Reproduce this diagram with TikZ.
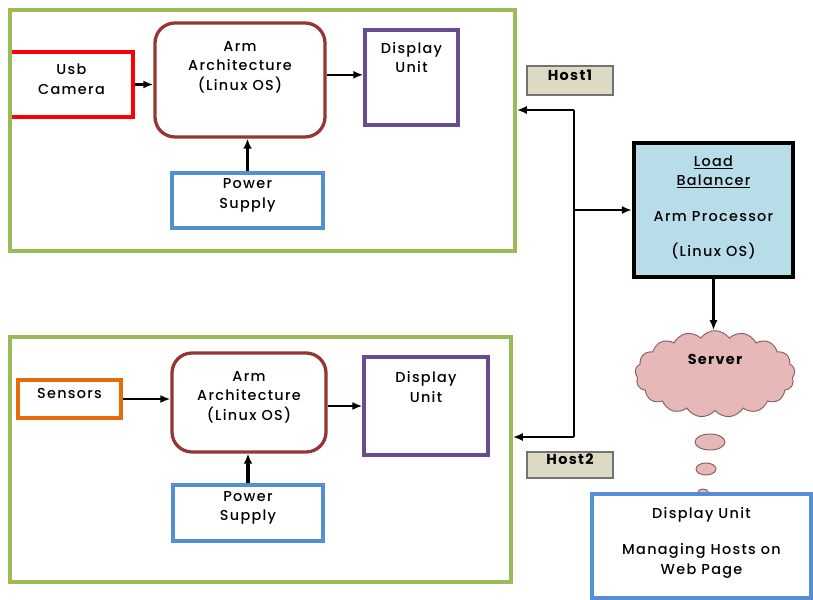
\documentclass[tikz,border=0pt]{standalone}
\usepackage{fontspec}
\setmainfont{Poppins}[UprightFont=* Medium, BoldFont=* Bold, LetterSpace=9]
\usetikzlibrary{positioning, arrows.meta, fit, shapes.symbols, shapes.geometric}

\definecolor{hostgreen}{HTML}{9BBB59}
\definecolor{camred}{HTML}{FF0000}
\definecolor{armred}{HTML}{943634}
\definecolor{disppurple}{HTML}{674C8E}
\definecolor{pwrblue}{HTML}{558ED5}
\definecolor{sensorange}{HTML}{E46C0A}
\definecolor{tagfill}{HTML}{DDD9C3}
\definecolor{lbfill}{HTML}{B7DEE8}
\definecolor{cloudfill}{HTML}{E6B9B8}
\definecolor{cloudline}{HTML}{8C5B5B}

\begin{document}
\begin{tikzpicture}[
    x=0.03cm, y=-0.03cm,
    every node/.style={font=\fontsize{12.3}{16.5}\selectfont},
    hostbox/.style={draw=hostgreen, line width=3pt, inner sep=0pt},
    cambox/.style={draw=camred, line width=3.4pt, inner sep=0pt, align=center},
    sensbox/.style={draw=sensorange, line width=3pt, inner sep=0pt, align=center},
    armbox/.style={draw=armred, line width=2.8pt, rounded corners=0.6cm, inner sep=0pt},
    dispbox/.style={draw=disppurple, line width=2.8pt, inner sep=0pt},
    pwrbox/.style={draw=pwrblue, line width=2.8pt, inner sep=0pt, align=center},
    tagbox/.style={draw=black!55, fill=tagfill, line width=1.2pt, inner sep=0pt,
      font=\fontsize{12.3}{16.5}\selectfont\bfseries},
    lbbox/.style={draw=black, fill=lbfill, line width=3.6pt, inner sep=0pt},
    webbox/.style={draw=pwrblue, fill=white, line width=2.8pt, inner sep=0pt},
    cloudshape/.style={cloud, draw=cloudline, fill=cloudfill, line width=0.8pt,
      cloud puffs=17, cloud puff arc=110, cloud ignores aspect,
      minimum width=4.8cm, minimum height=2.6cm, inner sep=0pt},
    bubble/.style={ellipse, draw=cloudline, fill=cloudfill, line width=0.8pt,
      inner sep=0pt},
    toptext/.style={anchor=north, align=center, inner sep=0pt, yshift=-0.4cm},
    arr/.style={-{Latex[length=3mm, width=2.4mm]}, line width=1.9pt},
    uparr/.style={-{Latex[length=3mm, width=2.6mm]}, line width=2.6pt}
  ]
  \useasboundingbox (0,0) rectangle (813,600);

  % Host 1
  \node[cambox, fit={(10,52) (133,117)}] (cam) {Usb\\Camera};
  \node[armbox, fit={(155,23) (325,137)},
    label={[toptext, yshift=-0.2cm]north:Arm\\Architecture\\(Linux OS)}] (arm1) {};
  \node[dispbox, fit={(365,30) (458,125)},
    label={[toptext]north:Display\\Unit}] (disp1) {};
  \node[pwrbox, fit={(172,173) (323,228)}] (pwr1) {Power\\Supply};
  \node[hostbox, fit={(10,10) (515,251)}] (host1) {};
  \draw[arr] (cam.east) -- (cam.east -| arm1.west);
  \draw[arr] ([yshift=0.08cm]disp1.west -| arm1.east) -- ([yshift=0.08cm]disp1.west);
  \draw[uparr] (pwr1.north) -- (pwr1.north |- arm1.south);

  % Host 2
  \node[sensbox, fit={(18,380) (121,418)}] (sens) {Sensors};
  \node[armbox, fit={(172,353) (326,452)},
    label={[toptext, yshift=-0.2cm]north:Arm\\Architecture\\(Linux OS)}] (arm2) {};
  \node[dispbox, fit={(364,357) (488,455)},
    label={[toptext, yshift=-0.08cm]north:Display\\Unit}] (disp2) {};
  \node[pwrbox, fit={(173,485) (323,541)}] (pwr2) {Power\\Supply};
  \node[hostbox, fit={(10,337) (511,582)}] (host2) {};
  \draw[arr] (sens.east) -- (sens.east -| arm2.west);
  \draw[arr] (disp2.west -| arm2.east) -- (disp2.west);
  \draw[uparr] (pwr2.north) -- (pwr2.north |- arm2.south);

  \node[tagbox, fit={(527,66) (613,95)}] (tag1) {Host1};
  \node[tagbox, fit={(527,452) (613,478)}] (tag2) {Host2};

  % load balancer and server
  \node[lbbox, fit={(634,143) (793,277)},
    label={[toptext, yshift=-0.03cm]north:\underline{Load}\\\underline{Balancer}\\[14pt]
      Arm Processor\\[14pt](Linux OS)}] (lb) {};
  \node[cloudshape, label={[toptext, font=\fontsize{12.3}{16.5}\selectfont\bfseries,
    yshift=-0.3cm]north:Server}] (server) at (715,374) {};
  \node[bubble, minimum width=0.9cm, minimum height=0.48cm] (bub1) at (710,442) {};
  \node[bubble, minimum width=0.6cm, minimum height=0.36cm] (bub2) at (706,469) {};
  \node[bubble, minimum width=0.3cm, minimum height=0.18cm] (bub3) at (703,492) {};
  \node[webbox, fit={(592,494) (811,598)},
    label={[toptext, yshift=-0.03cm]north:Display Unit\\[15pt]Managing Hosts on\\Web Page}] (web) {};

  % connections
  \coordinate (bus1) at (574,110);
  \coordinate (bus2) at (574,437);
  \draw[line width=1.9pt] (bus1) -- (bus2);
  \draw[arr] (bus1) -- (bus1 -| host1.east);
  \draw[arr] (bus2) -- (bus2 -| host2.east);
  \draw[arr] (bus1 |- lb.west) -- (lb.west);
  \draw[arr] (lb.south) -- (lb.south |- server.north);
\end{tikzpicture}
\end{document}
